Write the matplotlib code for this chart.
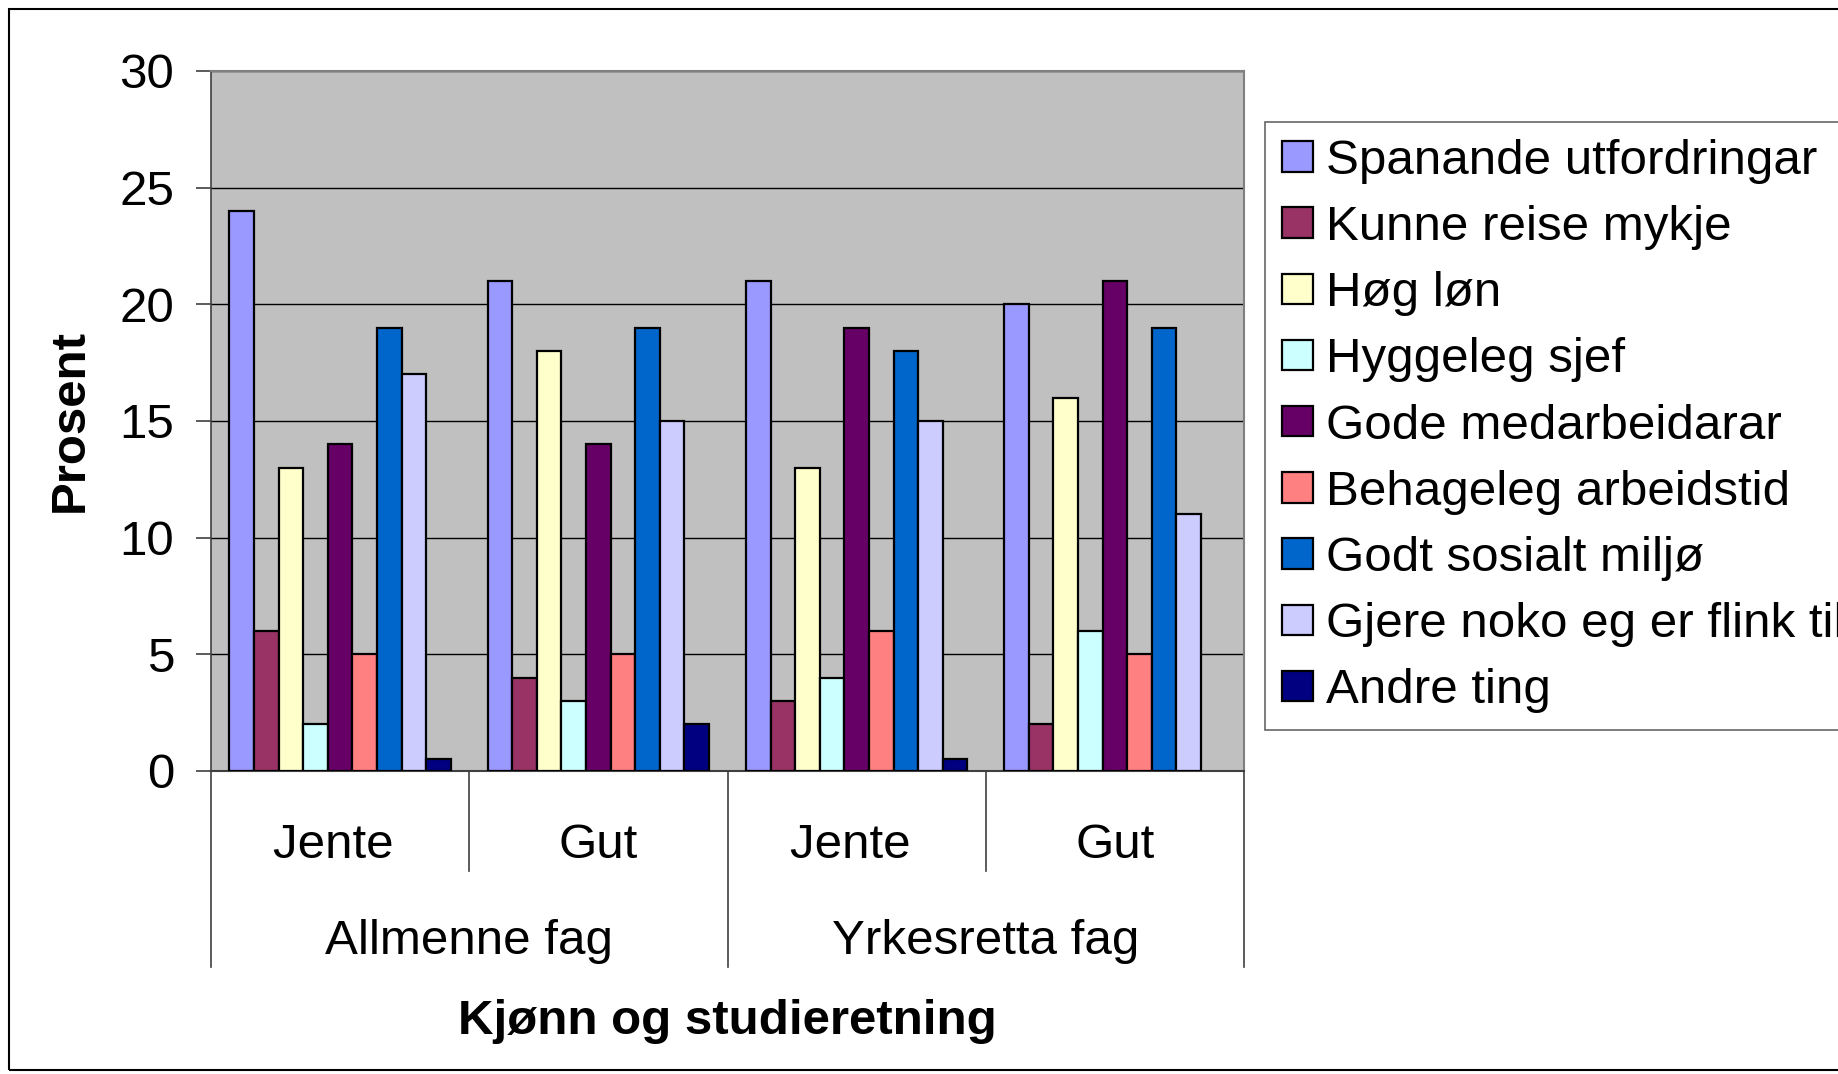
import matplotlib
matplotlib.use("Agg")
import matplotlib.pyplot as plt
import numpy as np
from matplotlib.transforms import blended_transform_factory
from matplotlib.lines import Line2D
from matplotlib.patches import Rectangle

plt.rcParams['font.family'] = ['Liberation Sans', 'DejaVu Sans']

# groups: (gender, programme)
kjonn = ["Jente ", "Gut", "Jente ", "Gut"]
studieretning = ["Allmenne fag", "Yrkesretta fag"]

serier = ["Spanande utfordringar", "Kunne reise mykje", "Høg løn", "Hyggeleg sjef",
          "Gode medarbeidarar", "Behageleg arbeidstid", "Godt sosialt miljø",
          "Gjere noko eg er flink til", "Andre ting"]

spanande = [24, 21, 21, 20]
reise = [6, 4, 3, 2]
hog_lon = [13, 18, 13, 16]
sjef = [2, 3, 4, 6]
medarbeidarar = [14, 14, 19, 21]
arbeidstid = [5, 5, 6, 5]
sosialt = [19, 19, 18, 19]
flink = [17, 15, 15, 11]
andre = [0.5, 2, 0.5, 0]

verdiar = [spanande, reise, hog_lon, sjef, medarbeidarar, arbeidstid, sosialt, flink, andre]
fargar = ["#9999FF", "#993366", "#FFFFCC", "#CCFFFF", "#660066",
          "#FF8080", "#0066CC", "#CCCCFF", "#000080"]

FS = 35.5
W, H = 1838, 1074
fig = plt.figure(figsize=(W / 100, H / 100), dpi=100)
ax = fig.add_axes([211 / W, 1 - 771 / H, (1244 - 211) / W, (771 - 71) / H])
ax.set_facecolor("#C0C0C0")

x = np.arange(len(kjonn))
bw = 1 / 10.5
handles = []
for i, (v, c) in enumerate(zip(verdiar, fargar)):
    b = ax.bar(x + (i - 4) * bw, v, bw, color=c, edgecolor="black", linewidth=1.6,
               label=serier[i], zorder=3)
    for p in b.patches:
        if p.get_height() == 0:
            p.set_visible(False)
    handles.append(b)

ax.set_xlim(-0.5, 3.5)
ax.set_ylim(0, 30)
ax.set_yticks(range(0, 31, 5))
ax.yaxis.grid(True, color="black", linewidth=1.0, zorder=1)
ax.tick_params(axis="y", labelsize=FS, length=11, width=1.2, pad=15.5, color="#404040")
ax.set_xticks([])
for s in ["top", "right"]:
    ax.spines[s].set_color("#808080")
    ax.spines[s].set_linewidth(1.5)
ax.spines["left"].set_color("#404040")
ax.spines["bottom"].set_color("#404040")
ax.spines["left"].set_linewidth(1.2)
ax.spines["bottom"].set_linewidth(1.5)

# two-level category axis
tr = blended_transform_factory(ax.transData, fig.transFigure)
y0 = 1 - 771 / H
for xs in [-0.5, 0.5, 1.5, 2.5, 3.5]:
    bottom = 1 - 967 / H if xs in (-0.5, 1.5, 3.5) else 1 - 871 / H
    fig.add_artist(Line2D([xs, xs], [y0, bottom], transform=tr, color="#404040", linewidth=1.2))
for xi, lab in zip(x, kjonn):
    fig.text(xi, 1 - 846 / H, lab, transform=tr, ha="center", va="center", fontsize=FS)
for gi, lab in enumerate(studieretning):
    fig.text(0.5 + 2 * gi, 1 - 942 / H, lab, transform=tr, ha="center", va="center", fontsize=FS)

fig.text(727 / W, 1 - 1022 / H, "Kjønn og studieretning", ha="center", va="center",
         fontsize=FS, fontweight="bold")
fig.text(70 / W, 1 - 421 / H, "Prosent", ha="center", va="center", rotation=90,
         fontsize=FS, fontweight="bold")

leg = fig.legend(handles=handles, loc="upper left", bbox_to_anchor=(1265 / W, 1 - 122 / H),
                 fontsize=FS, frameon=True, fancybox=False, handlelength=0.63,
                 handleheight=0.57, handletextpad=0.26, borderpad=0.34, labelspacing=0.43,
                 borderaxespad=0)
leg.get_frame().set_edgecolor("#404040")
leg.get_frame().set_linewidth(1.2)

# outer chart border
fig.add_artist(Rectangle((9 / W, 1 - 1070 / H), 2.0, (1070 - 9) / H, transform=fig.transFigure,
                         fill=False, edgecolor="black", linewidth=1.5))

fig.savefig("out.png", dpi=100)
